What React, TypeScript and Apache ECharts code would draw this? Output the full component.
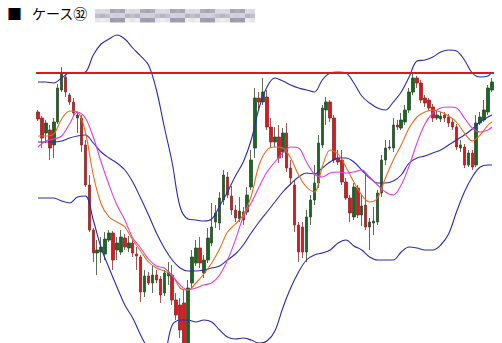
import React, { useEffect, useRef } from "react";
import * as echarts from "echarts";

// ---- data (price units) ----
const titleMark = "■";
const titleText = "ケース㉜";
const resistanceLevel = 270;

// [open, close, low, high]
const candles: number[][] = [
  [231, 224, 222, 233], [225, 205, 195, 227], [210, 220, 200, 223], [213, 195, 183, 218],
  [198, 221, 185, 225], [221, 255, 219, 259], [253, 270, 251, 276], [266, 251, 246, 270],
  [248, 241, 238, 250], [241, 230, 227, 245], [225, 228, 210, 230], [225, 198, 191, 228],
  [198, 158, 156, 203], [158, 113, 111, 168], [113, 90, 81, 115], [90, 93, 68, 103],
  [91, 96, 80, 106], [89, 104, 83, 111], [103, 110, 101, 113], [110, 83, 73, 112],
  [93, 100, 83, 106], [91, 106, 88, 113], [105, 96, 93, 109], [95, 100, 91, 107],
  [100, 90, 86, 103], [89, 87, 73, 96], [86, 51, 41, 88], [51, 67, 46, 73],
  [67, 60, 58, 71], [60, 68, 50, 78], [68, 63, 60, 73], [64, 48, 40, 67],
  [50, 70, 47, 73], [67, 71, 58, 81], [68, 43, 38, 78], [43, 28, 23, 50],
  [38, 13, 5, 45], [40, -7, -17, 53], [-7, 55, -17, 63], [60, 86, 55, 93],
  [80, 95, 77, 103], [95, 80, 75, 106], [70, 83, 65, 88], [83, 105, 80, 115],
  [100, 116, 97, 140], [121, 130, 115, 138], [120, 145, 113, 151], [143, 168, 138, 173],
  [166, 148, 145, 171], [147, 133, 128, 157], [133, 125, 121, 138], [124, 132, 121, 146],
  [131, 123, 118, 136], [131, 148, 128, 156], [156, 183, 153, 193], [195, 245, 185, 255],
  [245, 241, 233, 251], [241, 251, 238, 265], [246, 216, 213, 253], [216, 201, 195, 225],
  [201, 206, 196, 216], [206, 185, 180, 218], [191, 210, 185, 215], [210, 175, 171, 220],
  [175, 165, 158, 183], [158, 118, 111, 163], [118, 91, 81, 121], [116, 91, 85, 121],
  [91, 126, 81, 133], [126, 143, 118, 148], [143, 160, 138, 178], [160, 200, 155, 208],
  [198, 235, 195, 238], [233, 241, 218, 246], [241, 225, 221, 243], [225, 183, 180, 228],
  [185, 181, 178, 193], [183, 161, 158, 193], [161, 145, 143, 165], [145, 130, 121, 148],
  [126, 156, 123, 160], [155, 128, 125, 158], [128, 137, 117, 148], [138, 116, 113, 168],
  [116, 121, 93, 125], [120, 122, 108, 136], [121, 150, 118, 153], [150, 183, 146, 188],
  [183, 195, 178, 203], [195, 196, 193, 203], [195, 218, 191, 225], [218, 216, 213, 223],
  [215, 223, 213, 230], [221, 233, 218, 238], [233, 251, 230, 255], [251, 265, 248, 270],
  [265, 260, 255, 267], [260, 243, 240, 263], [245, 240, 236, 248], [243, 235, 232, 245],
  [236, 225, 221, 239], [225, 228, 223, 233], [224, 227, 221, 231], [228, 225, 221, 231],
  [226, 220, 216, 229], [221, 216, 213, 225], [216, 196, 193, 219], [195, 198, 191, 203],
  [196, 178, 175, 199], [178, 190, 176, 193], [190, 176, 173, 193], [178, 220, 176, 228],
  [220, 226, 218, 231], [223, 233, 221, 243], [231, 255, 228, 258], [253, 261, 251, 265],
];

const categories = candles.map((_, i) => String(i + 1));

// sample positions (candle index) for the indicator lines
const lineIdx = [
  0, 2, 4, 6, 8, 10, 12, 14, 16, 18, 20, 22, 24, 26, 28, 30, 32, 34, 36, 38,
  40, 42, 44, 46, 48, 50, 52, 54, 56, 58, 60, 62, 64, 66, 68, 70, 72, 74, 76, 78,
  80, 82, 84, 86, 88, 90, 92, 94, 96, 98, 100, 102, 104, 106, 108, 110, 112, 114, 115,
];

const upperBand = [
  261, 261, 260, 265, 270, 270, 271, 288, 299, 304, 308, 304, 295, 287, 278, 253, 216, 180, 136, 124,
  123, 122, 124, 137, 151, 167, 181, 203, 235, 256, 265, 262, 258, 255, 253, 251, 263, 270, 271, 270,
  260, 247, 240, 235, 233, 241, 251, 266, 282, 283, 286, 291, 293, 292, 283, 270, 266, 267, 271,
];

const lowerBand = [
  145, 145, 145, 142, 140, 146, 147, 123, 95, 75, 56, 38, 25, 8, -7, -19, -12, 18, 23, 23,
  21, 23, 21, 13, 6, 4, 5, 3, 0, 2, 12, 35, 55, 71, 83, 88, 90, 93, 100, 103,
  97, 93, 86, 83, 83, 83, 91, 96, 95, 93, 93, 98, 109, 131, 151, 166, 176, 178, 178,
];

const middleBand = [
  201, 201, 201, 202, 205, 207, 208, 200, 191, 185, 180, 173, 161, 145, 128, 110, 95, 83, 75, 72,
  72, 73, 75, 77, 83, 89, 98, 110, 121, 131, 141, 151, 159, 166, 170, 169, 175, 181, 185, 185,
  181, 173, 165, 160, 160, 162, 168, 180, 185, 187, 190, 193, 198, 203, 208, 214, 221, 226, 228,
];

const maFast = [
  207, 207, 209, 224, 232, 231, 211, 168, 139, 126, 121, 116, 103, 92, 81, 75, 72, 68, 55, 53,
  60, 69, 80, 94, 111, 119, 128, 147, 178, 193, 196, 195, 185, 168, 156, 151, 176, 193, 189, 176,
  161, 148, 141, 145, 165, 183, 198, 215, 226, 231, 233, 231, 227, 221, 210, 202, 208, 218, 221,
];

const maSlow = [
  196, 202, 204, 207, 219, 231, 225, 206, 181, 158, 138, 123, 105, 95, 84, 77, 75, 67, 58, 53,
  55, 58, 60, 68, 83, 103, 126, 140, 156, 171, 181, 190, 196, 195, 181, 169, 166, 170, 171, 170,
  171, 173, 166, 158, 151, 148, 158, 177, 200, 219, 230, 235, 236, 235, 225, 215, 211, 213, 216,
];

const mosaicShades = [
  "#d8d8e0", "#b8b4c4", "#e6e6ea", "#a8a4b8", "#cfcfd8", "#9f9aae", "#dcdce2", "#c2bfcc",
  "#eeeeef", "#b0acbc", "#d2d2da", "#a39fb3",
];

const pairs = (arr: number[]) => lineIdx.map((x, k) => [x, arr[k]]);

export default function App() {
  const ref = useRef<HTMLDivElement>(null);

  useEffect(() => {
    if (!ref.current) return;
    const chart = echarts.init(ref.current, undefined, { renderer: "svg" });

    const mosaic: any[] = [];
    for (let c = 0; c < 32; c++) {
      for (let r = 0; r < 3; r++) {
        mosaic.push({
          type: "rect",
          shape: { x: 95 + c * 5, y: 9 + r * 4.5, width: 5, height: 4.5 },
          style: { fill: mosaicShades[(c * 5 + r * 7 + (c % 3)) % mosaicShades.length] },
          silent: true,
        });
      }
    }

    const lineStyleSeries = (name: string, data: number[], color: string, width = 1.1) => ({
      name,
      type: "line",
      data: pairs(data),
      smooth: 0.35,
      symbol: "none",
      clip: true,
      lineStyle: { color, width },
      z: 3,
    });

    chart.setOption({
      animation: false,
      backgroundColor: "#ffffff",
      grid: { left: 36, top: 30, width: 458, height: 313 },
      xAxis: {
        type: "category",
        data: categories,
        boundaryGap: true,
        show: false,
      },
      yAxis: {
        type: "value",
        min: 0,
        max: 313,
        show: false,
        splitLine: { show: false },
      },
      graphic: [
        {
          type: "text",
          left: 7,
          top: 6,
          style: { text: titleMark, font: "15px 'Noto Sans CJK JP'", fill: "#000" },
        },
        {
          type: "text",
          left: 32,
          top: 6,
          style: { text: titleText, font: "14px 'Noto Sans CJK JP'", fill: "#000" },
        },
        ...mosaic,
      ],
      series: [
        {
          type: "candlestick",
          data: candles,
          barWidth: 3,
          clip: true,
          itemStyle: {
            color: "#17691f",
            color0: "#e3141c",
            borderColor: "#2f4a2f",
            borderColor0: "#8a2a2a",
            borderWidth: 0.8,
          },
          markLine: {
            silent: true,
            symbol: ["none", "none"],
            label: { show: false },
            lineStyle: { color: "#e3141c", width: 2, type: "solid" },
            data: [{ yAxis: resistanceLevel }],
            z: 5,
          },
          z: 2,
        },
        lineStyleSeries("upper", upperBand, "#2b2bb0"),
        lineStyleSeries("lower", lowerBand, "#2b2bb0"),
        lineStyleSeries("middle", middleBand, "#2b2bb0"),
        lineStyleSeries("fast", maFast, "#ee6a1a"),
        lineStyleSeries("slow", maSlow, "#de3fd8"),
      ],
    });

    return () => chart.dispose();
  }, []);

  return (
    <div
      ref={ref}
      style={{ position: "fixed", left: 0, top: 0, width: 502, height: 343, background: "#fff" }}
    />
  );
}
